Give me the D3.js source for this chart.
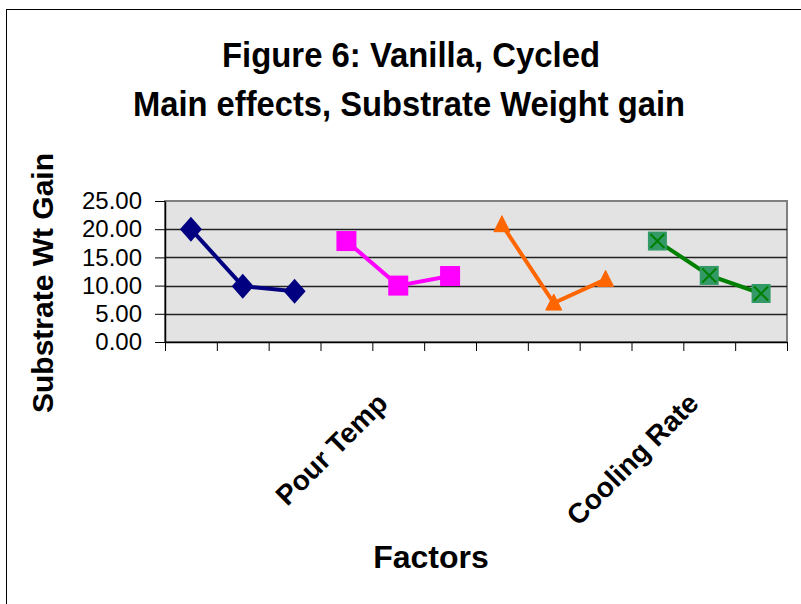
<!DOCTYPE html>
<html>
<head>
<meta charset="utf-8">
<script src="https://cdn.jsdelivr.net/npm/d3@7"></script>
<style>
  body { margin: 0; background: #fff; }
  text { font-family: "Liberation Sans", Arial, sans-serif; }
</style>
</head>
<body>
<div id="chart"></div>
<script>
// Category labels (only two of the twelve slots carry a label)
const categories = ["", "", "", "", "Pour Temp", "", "", "", "", "", "Cooling Rate", ""];
const yTicks = [0, 5, 10, 15, 20, 25];

// Series values, three factor levels each
const series1 = [20.0, 9.9, 9.0];
const series2 = [17.9, 10.0, 11.7];
const series3 = [20.8, 6.9, 11.1];
const series4 = [17.9, 11.8, 8.6];

// first category index of each series
const seriesStart = [0, 3, 6, 9];

const width = 801;
const height = 604;
const plot = { left: 165, right: 787, top: 201, bottom: 342 };

const svg = d3.select("#chart")
  .append("svg")
  .attr("width", width)
  .attr("height", height);

// outer chart frame (runs off the right and bottom edges)
svg.append("rect")
  .attr("x", 6.5)
  .attr("y", 9.5)
  .attr("width", 1000)
  .attr("height", 1000)
  .attr("fill", "#fff")
  .attr("stroke", "#000")
  .attr("stroke-width", 1);

// Scales
const x = d3.scaleBand()
  .domain(d3.range(categories.length))
  .range([plot.left, plot.right])
  .padding(0);

const xEdge = d3.scaleLinear()
  .domain([0, categories.length])
  .range([plot.left, plot.right]);

const y = d3.scaleLinear()
  .domain([0, 25])
  .range([plot.bottom, plot.top]);

// Plot area
svg.append("rect")
  .attr("x", plot.left)
  .attr("y", plot.top)
  .attr("width", plot.right - plot.left)
  .attr("height", plot.bottom - plot.top)
  .attr("fill", "#e3e3e3")
  .attr("stroke", "#808080")
  .attr("stroke-width", 2);

// Gridlines
svg.append("g")
  .selectAll("line")
  .data(yTicks.filter(d => d > 0 && d < 25))
  .join("line")
  .attr("x1", plot.left)
  .attr("x2", plot.right)
  .attr("y1", d => Math.round(y(d)) + 0.5)
  .attr("y2", d => Math.round(y(d)) + 0.5)
  .attr("stroke", "#222")
  .attr("stroke-width", 1.5);

// Y axis
const yAxis = svg.append("g")
  .attr("transform", `translate(${plot.left},0)`)
  .call(d3.axisLeft(y)
    .tickValues(yTicks)
    .tickFormat(d3.format(".2f"))
    .tickSize(10)
    .tickPadding(13)
    .tickSizeOuter(0));
yAxis.select(".domain").attr("stroke", "#000").attr("stroke-width", 1.5);
yAxis.selectAll(".tick line").attr("stroke", "#000");
yAxis.selectAll(".tick text")
  .attr("fill", "#000")
  .style("font-size", "24px")
  .style("font-family", "'Liberation Sans', Arial, sans-serif");

// X axis (ticks on category boundaries)
const xAxis = svg.append("g")
  .attr("transform", `translate(0,${plot.bottom})`)
  .call(d3.axisBottom(xEdge)
    .tickValues(d3.range(categories.length + 1))
    .tickFormat("")
    .tickSize(9)
    .tickSizeOuter(0));
xAxis.select(".domain").attr("stroke", "#000").attr("stroke-width", 1.5);
xAxis.selectAll(".tick line").attr("stroke", "#000");

// Category labels, rotated
svg.append("g")
  .selectAll("text")
  .data(categories.map((c, i) => ({ c, i })).filter(d => d.c))
  .join("text")
  .attr("text-anchor", "end")
  .attr("transform", d => `translate(${x(d.i) + x.bandwidth() / 2 - 9},${plot.bottom + 63}) rotate(-45)`)
  .style("font-size", "28px")
  .style("font-weight", "bold")
  .text(d => d.c);

// Series definitions
const seriesList = [
  { values: series1, start: seriesStart[0], stroke: "#000080", marker: "diamond" },
  { values: series2, start: seriesStart[1], stroke: "#ff00ff", marker: "square" },
  { values: series3, start: seriesStart[2], stroke: "#ff6600", marker: "triangle" },
  { values: series4, start: seriesStart[3], stroke: "#008000", marker: "xsquare" }
];

const line = d3.line()
  .x(d => x(d.i) + x.bandwidth() / 2)
  .y(d => y(d.v));

seriesList.forEach(s => {
  const pts = s.values.map((v, k) => ({ v, i: s.start + k }));
  const g = svg.append("g");

  g.append("path")
    .datum(pts)
    .attr("fill", "none")
    .attr("stroke", s.stroke)
    .attr("stroke-width", 4)
    .attr("d", line);

  const m = g.selectAll("g.marker")
    .data(pts)
    .join("g")
    .attr("class", "marker")
    .attr("transform", d => `translate(${x(d.i) + x.bandwidth() / 2},${y(d.v)})`);

  if (s.marker === "diamond") {
    m.append("path")
      .attr("d", "M0,-12.5L11,0L0,12.5L-11,0Z")
      .attr("fill", s.stroke);
  } else if (s.marker === "square") {
    m.append("rect")
      .attr("x", -10).attr("y", -10)
      .attr("width", 20).attr("height", 20)
      .attr("fill", s.stroke);
  } else if (s.marker === "triangle") {
    m.append("path")
      .attr("d", "M0,-9L8,7L-8,7Z")
      .attr("fill", s.stroke)
      .attr("stroke", s.stroke)
      .attr("stroke-width", 1);
  } else {
    m.append("rect")
      .attr("x", -9.5).attr("y", -9.5)
      .attr("width", 19).attr("height", 19)
      .attr("fill", "#339966");
    m.append("path")
      .attr("d", "M-7,-7L7,7M7,-7L-7,7")
      .attr("stroke", s.stroke)
      .attr("stroke-width", 2);
  }
});

// Titles
svg.append("text")
  .attr("x", 411)
  .attr("y", 66.5)
  .attr("text-anchor", "middle")
  .attr("textLength", 378)
  .attr("lengthAdjust", "spacingAndGlyphs")
  .style("font-size", "35px")
  .style("font-weight", "bold")
  .text("Figure 6: Vanilla, Cycled");

svg.append("text")
  .attr("x", 409)
  .attr("y", 116)
  .attr("text-anchor", "middle")
  .attr("textLength", 552)
  .attr("lengthAdjust", "spacingAndGlyphs")
  .style("font-size", "35px")
  .style("font-weight", "bold")
  .text("Main effects, Substrate Weight gain");

svg.append("text")
  .attr("transform", "translate(53,283) rotate(-90)")
  .attr("text-anchor", "middle")
  .style("font-size", "30px")
  .style("font-weight", "bold")
  .text("Substrate  Wt Gain");

svg.append("text")
  .attr("x", 431)
  .attr("y", 568)
  .attr("text-anchor", "middle")
  .style("font-size", "32px")
  .style("font-weight", "bold")
  .text("Factors");
</script>
</body>
</html>
